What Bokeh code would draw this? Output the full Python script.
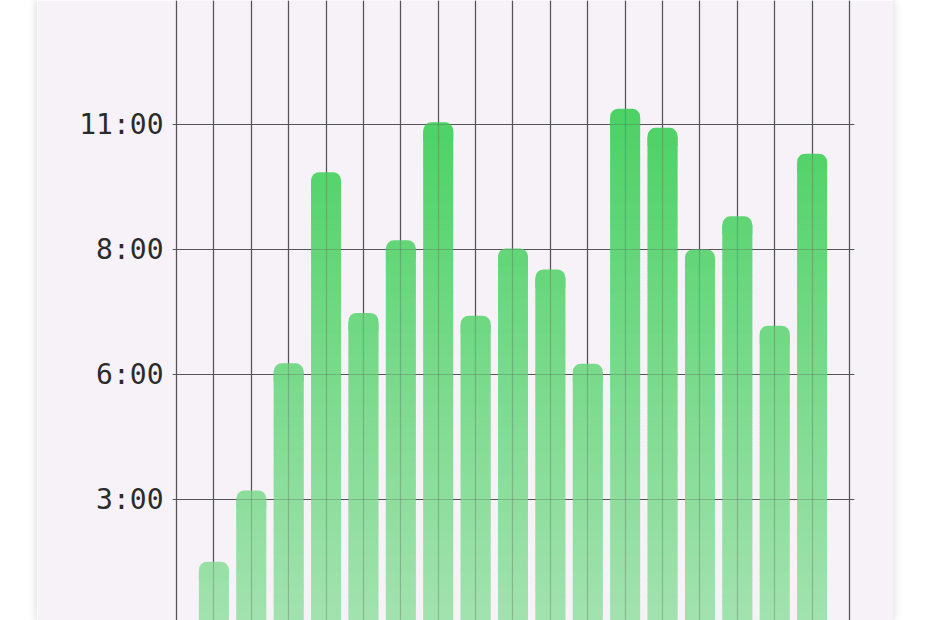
import numpy as np
from bokeh.plotting import figure
from bokeh.models import ColumnDataSource, Range1d, LinearAxis, FixedTicker, Grid
from bokeh.embed import file_html
from bokeh.resources import INLINE

# one bar per day, hours
days = list(range(1, 18))
hours = [1.37, 2.94, 5.74, 9.95, 6.85, 8.45, 11.05, 6.79, 8.27, 7.81,
         5.73, 11.35, 10.93, 8.25, 8.98, 6.57, 10.36]

# y ticks and what they show
tick_hours = [2.75, 5.5, 8.25, 11.0]
tick_labels = ["3:00", "6:00", "8:00", "11:00"]

CARD = "#f6f2f8"
LAV = (246, 242, 248)
GREEN = (57, 206, 84)
GRID = "#56545a"


def shade(y, y_lo=0.25, y_hi=11.3, a_lo=0.45, a_hi=0.9):
    # vertical gradient: green fades into the card colour toward the bottom
    t = min(max((y - y_lo) / (y_hi - y_lo), 0.0), 1.0)
    a = a_lo + (a_hi - a_lo) * t
    r, g, b = (round(a * c + (1 - a) * l) for c, l in zip(GREEN, LAV))
    return "#%02x%02x%02x" % (r, g, b)


# bars are built from thin strips so they can carry the gradient,
# plus a rounded cap on top
STEP = 0.05
CAP = 0.4
xs, bots, tops, cols = [], [], [], []
for d, h in zip(days, hours):
    for y in np.arange(0.0, h - CAP / 2, STEP):
        xs.append(d)
        bots.append(y)
        tops.append(min(y + STEP * 1.6, h - CAP / 2))
        cols.append(shade(y + STEP / 2))
strips = ColumnDataSource(dict(x=xs, bottom=bots, top=tops, color=cols))
caps = ColumnDataSource(dict(x=days, top=hours,
                             bottom=[h - CAP for h in hours],
                             color=[shade(h - 0.1) for h in hours]))

p = figure(width=856, height=620,
           x_range=Range1d(-0.107, len(days) + 1.134),
           y_range=Range1d(0.073, 13.735),
           x_axis_location=None, y_axis_location=None,
           toolbar_location=None, output_backend="svg",
           min_border_left=135, min_border_right=39,
           min_border_top=0, min_border_bottom=0,
           background_fill_color=CARD, border_fill_color=CARD,
           outline_line_color=None)
p.margin = (0, 0, 0, 37)
p.styles = {"box-shadow": "0 0 8px 1px rgba(0,0,0,0.14)"}

xticks = list(range(0, len(days) + 2))
p.xgrid.ticker = FixedTicker(ticks=xticks)
p.ygrid.ticker = FixedTicker(ticks=tick_hours)
p.grid.grid_line_color = GRID
p.grid.grid_line_width = 1.2

p.vbar(x="x", width=0.8, bottom="bottom", top="top", source=strips,
       fill_color="color", line_color=None)
p.vbar(x="x", width=0.8, bottom="bottom", top="top", source=caps,
       fill_color="color", line_color=None, border_radius=(8, 8, 0, 0))

# grid lines show faintly through the bars
for dim, tk in ((0, xticks), (1, tick_hours)):
    p.add_layout(Grid(dimension=dim, ticker=FixedTicker(ticks=tk),
                      level="guide", grid_line_color=GRID,
                      grid_line_width=1.2, grid_line_alpha=0.3))

yaxis = LinearAxis(ticker=FixedTicker(ticks=tick_hours),
                   major_label_overrides=dict(zip(tick_hours, tick_labels)),
                   axis_line_color=None, major_tick_line_color=None,
                   minor_tick_line_color=None, major_tick_in=0, major_tick_out=0,
                   major_label_standoff=9,
                   major_label_text_font="DejaVu Sans Mono",
                   major_label_text_font_size="28px",
                   major_label_text_color="#2b2b2b")
p.add_layout(yaxis, "left")

open("out.html", "w").write(file_html(p, INLINE))
